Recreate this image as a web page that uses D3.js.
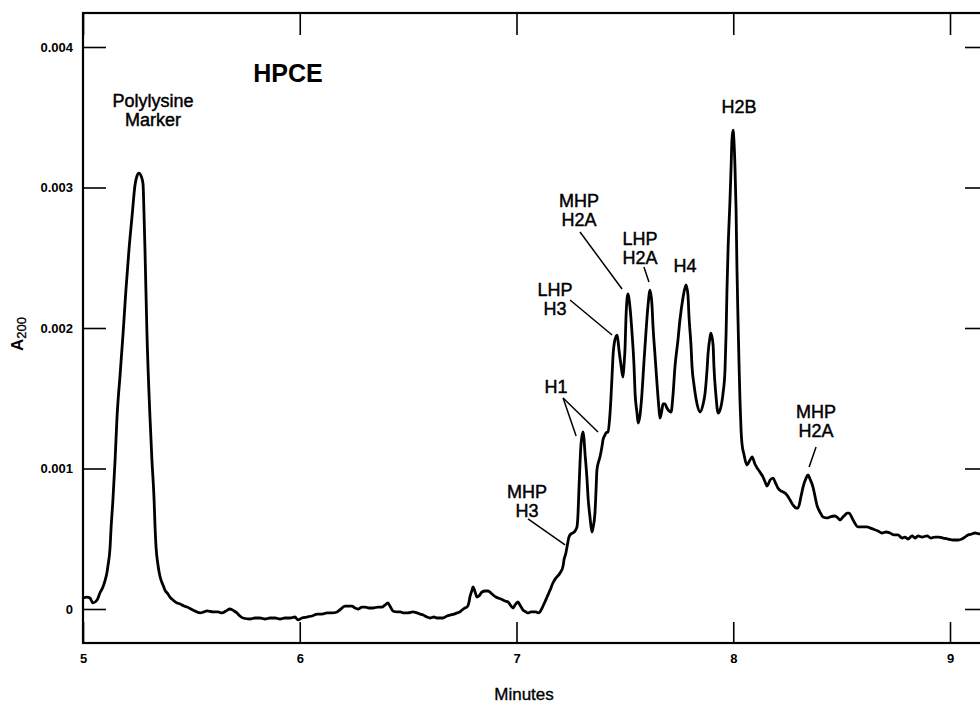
<!DOCTYPE html>
<html>
<head>
<meta charset="utf-8">
<script src="https://cdn.jsdelivr.net/npm/d3@7"></script>
<style>
  html, body { margin: 0; padding: 0; background: #fff; }
  svg { display: block; }
  text { font-family: "Liberation Sans", Arial, Helvetica, sans-serif; fill: #000; }
</style>
</head>
<body>
<svg id="chart" width="980" height="707"></svg>
<script>
// HPCE electropherogram: migration time (min) vs. absorbance at 200 nm (in units of 0.001 AU)
const timeMin = [
  5.000, 5.018, 5.032, 5.046, 5.065, 5.078, 5.092, 5.101, 5.111, 5.115,
  5.125, 5.129, 5.138, 5.148, 5.157, 5.171, 5.185, 5.198, 5.212, 5.226,
  5.240, 5.249, 5.258, 5.268, 5.277, 5.281, 5.286, 5.295, 5.309, 5.318,
  5.328, 5.332, 5.337, 5.346, 5.351, 5.360, 5.369, 5.378, 5.392, 5.401,
  5.415, 5.434, 5.448, 5.466, 5.480, 5.507, 5.540, 5.558, 5.572, 5.600,
  5.623, 5.641, 5.660, 5.678, 5.697, 5.710, 5.724, 5.738, 5.770, 5.794,
  5.817, 5.840, 5.863, 5.886, 5.909, 5.932, 5.955, 5.978, 5.992, 6.010,
  6.033, 6.057, 6.080, 6.103, 6.126, 6.149, 6.172, 6.190, 6.209, 6.227,
  6.241, 6.255, 6.269, 6.287, 6.301, 6.319, 6.338, 6.361, 6.379, 6.393,
  6.407, 6.416, 6.430, 6.449, 6.463, 6.481, 6.499, 6.522, 6.541, 6.555,
  6.569, 6.587, 6.601, 6.619, 6.633, 6.647, 6.661, 6.679, 6.693, 6.712,
  6.726, 6.739, 6.749, 6.762, 6.772, 6.781, 6.785, 6.795, 6.799, 6.809,
  6.818, 6.827, 6.841, 6.855, 6.869, 6.882, 6.892, 6.905, 6.915, 6.928,
  6.938, 6.947, 6.961, 6.975, 6.984, 6.993, 7.007, 7.016, 7.030, 7.044,
  7.053, 7.067, 7.076, 7.090, 7.099, 7.108, 7.118, 7.131, 7.141, 7.155,
  7.168, 7.182, 7.201, 7.215, 7.219, 7.228, 7.233, 7.242, 7.251, 7.261,
  7.270, 7.279, 7.284, 7.288, 7.293, 7.298, 7.307, 7.311, 7.316, 7.325,
  7.330, 7.339, 7.348, 7.353, 7.362, 7.367, 7.371, 7.381, 7.385, 7.394,
  7.399, 7.408, 7.413, 7.422, 7.431, 7.436, 7.441, 7.445, 7.454, 7.464,
  7.468, 7.473, 7.482, 7.491, 7.496, 7.501, 7.505, 7.514, 7.524, 7.533,
  7.542, 7.547, 7.556, 7.561, 7.570, 7.579, 7.588, 7.597, 7.607, 7.616,
  7.625, 7.630, 7.639, 7.648, 7.657, 7.662, 7.671, 7.676, 7.685, 7.694,
  7.704, 7.713, 7.722, 7.731, 7.745, 7.754, 7.768, 7.782, 7.791, 7.796,
  7.805, 7.810, 7.819, 7.824, 7.833, 7.847, 7.860, 7.870, 7.879, 7.884,
  7.893, 7.897, 7.907, 7.911, 7.920, 7.930, 7.939, 7.953, 7.962, 7.967,
  7.971, 7.976, 7.985, 7.990, 7.994, 7.999, 8.003, 8.008, 8.013, 8.017,
  8.022, 8.027, 8.031, 8.036, 8.040, 8.050, 8.063, 8.077, 8.087, 8.100,
  8.110, 8.123, 8.137, 8.147, 8.156, 8.170, 8.183, 8.197, 8.206, 8.220,
  8.230, 8.248, 8.262, 8.276, 8.290, 8.299, 8.313, 8.322, 8.336, 8.345,
  8.354, 8.368, 8.377, 8.386, 8.400, 8.414, 8.433, 8.446, 8.469, 8.483,
  8.493, 8.506, 8.516, 8.525, 8.534, 8.553, 8.576, 8.594, 8.617, 8.631,
  8.645, 8.668, 8.686, 8.705, 8.723, 8.742, 8.760, 8.779, 8.792, 8.806,
  8.825, 8.839, 8.852, 8.871, 8.894, 8.912, 8.931, 8.949, 8.968, 8.991,
  9.014, 9.037, 9.055, 9.069, 9.083, 9.101, 9.115, 9.138, 9.161
];

const absorbance = [
  0.078, 0.085, 0.078, 0.043, 0.064, 0.114, 0.157, 0.199, 0.263, 0.306,
  0.441, 0.562, 0.776, 1.060, 1.367, 1.665, 1.964, 2.270, 2.555, 2.790,
  3.018, 3.082, 3.103, 3.082, 3.025, 2.840, 2.555, 1.964, 1.367, 1.060,
  0.776, 0.598, 0.441, 0.313, 0.263, 0.206, 0.171, 0.135, 0.107, 0.085,
  0.064, 0.043, 0.036, 0.021, 0.014, -0.007, -0.028, -0.021, -0.014, -0.021,
  -0.021, -0.028, -0.014, 0.000, -0.014, -0.028, -0.050, -0.064, -0.071, -0.064,
  -0.064, -0.071, -0.064, -0.064, -0.071, -0.064, -0.064, -0.057, -0.078, -0.064,
  -0.057, -0.050, -0.036, -0.036, -0.028, -0.028, -0.021, 0.000, 0.021, 0.021,
  0.021, 0.007, 0.000, 0.014, 0.014, 0.007, 0.007, 0.014, 0.014, 0.028,
  0.043, 0.021, -0.014, -0.021, -0.021, -0.028, -0.028, -0.021, -0.028, -0.036,
  -0.043, -0.057, -0.064, -0.057, -0.064, -0.064, -0.064, -0.050, -0.043, -0.036,
  -0.028, -0.021, -0.007, 0.007, 0.014, 0.050, 0.085, 0.135, 0.157, 0.121,
  0.085, 0.093, 0.121, 0.128, 0.128, 0.114, 0.100, 0.085, 0.078, 0.071,
  0.064, 0.057, 0.050, 0.021, 0.007, 0.028, 0.050, 0.028, -0.007, -0.021,
  -0.028, -0.021, -0.021, -0.021, -0.028, -0.021, 0.007, 0.050, 0.085, 0.135,
  0.185, 0.221, 0.256, 0.306, 0.349, 0.399, 0.441, 0.512, 0.534, 0.541,
  0.555, 0.584, 0.683, 0.847, 1.039, 1.181, 1.260, 1.217, 1.110, 0.932,
  0.797, 0.655, 0.548, 0.577, 0.683, 0.847, 0.989, 1.060, 1.082, 1.153,
  1.203, 1.238, 1.253, 1.260, 1.381, 1.509, 1.665, 1.794, 1.915, 1.950,
  1.915, 1.843, 1.737, 1.651, 1.737, 1.865, 2.071, 2.242, 2.142, 1.964,
  1.737, 1.537, 1.395, 1.324, 1.381, 1.537, 1.758, 1.964, 2.164, 2.270,
  2.164, 2.007, 1.808, 1.609, 1.431, 1.359, 1.416, 1.459, 1.459, 1.431,
  1.409, 1.402, 1.523, 1.722, 1.915, 2.057, 2.214, 2.306, 2.235, 2.078,
  1.879, 1.722, 1.594, 1.537, 1.459, 1.402, 1.452, 1.537, 1.701, 1.822,
  1.936, 1.964, 1.879, 1.722, 1.523, 1.395, 1.416, 1.537, 1.701, 1.964,
  2.270, 2.555, 2.911, 3.146, 3.338, 3.409, 3.338, 3.146, 2.840, 2.434,
  2.057, 1.722, 1.488, 1.274, 1.181, 1.096, 1.025, 1.060, 1.082, 1.032,
  1.004, 0.975, 0.940, 0.904, 0.875, 0.918, 0.932, 0.890, 0.861, 0.840,
  0.833, 0.811, 0.776, 0.740, 0.719, 0.719, 0.804, 0.868, 0.932, 0.954,
  0.925, 0.868, 0.804, 0.740, 0.690, 0.655, 0.648, 0.655, 0.662, 0.648,
  0.633, 0.655, 0.669, 0.683, 0.683, 0.633, 0.584, 0.584, 0.584, 0.577,
  0.569, 0.555, 0.541, 0.548, 0.541, 0.527, 0.527, 0.505, 0.512, 0.498,
  0.520, 0.505, 0.520, 0.512, 0.520, 0.505, 0.512, 0.512, 0.505, 0.498,
  0.491, 0.491, 0.498, 0.512, 0.527, 0.534, 0.541, 0.534, 0.541
];

const xTicks = [5, 6, 7, 8, 9];
const xTickLabels = ["5", "6", "7", "8", "9"];
const yTicks = [0, 1, 2, 3, 4];
const yTickLabels = ["0", "0.001", "0.002", "0.003", "0.004"];

// Peak annotations: text lines, anchor (time, absorbance) of the first baseline, leader segments
const peakLabels = [
  { lines: ["Polylysine", "Marker"], t: 5.323, a: 3.573, leaders: [] },
  { lines: ["H2B"], t: 8.027, a: 3.530, leaders: [] },
  { lines: ["MHP", "H2A"], t: 7.288, a: 2.861, leaders: [[[7.293, 2.683], [7.487, 2.278]]] },
  { lines: ["LHP", "H2A"], t: 7.570, a: 2.591, leaders: [[[7.588, 2.434], [7.611, 2.327]]] },
  { lines: ["H4"], t: 7.777, a: 2.399, leaders: [] },
  { lines: ["LHP", "H3"], t: 7.178, a: 2.228, leaders: [[[7.247, 2.199], [7.441, 1.950]]] },
  { lines: ["H1"], t: 7.182, a: 1.537, leaders: [[[7.215, 1.502], [7.275, 1.231]], [[7.215, 1.502], [7.376, 1.260]]] },
  { lines: ["MHP", "H3"], t: 7.048, a: 0.790, leaders: [[[7.053, 0.641], [7.224, 0.456]]] },
  { lines: ["MHP", "H2A"], t: 8.382, a: 1.359, leaders: [[[8.382, 1.153], [8.350, 1.011]]] }
];

const svg = d3.select("#chart");
const frame = { left: 83, top: 13, right: 991, bottom: 643 };

const x = d3.scaleLinear().domain([5, 9]).range([83, 950]);
const y = d3.scaleLinear().domain([0, 4]).range([609, 47]);

// plot frame
svg.append("rect")
  .attr("x", frame.left).attr("y", frame.top)
  .attr("width", frame.right - frame.left).attr("height", frame.bottom - frame.top)
  .attr("fill", "none").attr("stroke", "#000").attr("stroke-width", 2.2);

function styleAxis(g) {
  g.attr("font-family", null).attr("font-size", null);
  g.select(".domain").remove();
  g.selectAll(".tick line").attr("stroke", "#000").attr("stroke-width", 1.6);
  g.selectAll(".tick text")
    .style("font-size", "13px")
    .style("font-weight", "bold");
}

// inward ticks on all four sides, labels on left and bottom
svg.append("g")
  .attr("transform", `translate(${frame.left},0)`)
  .call(d3.axisLeft(y).tickValues(yTicks).tickSize(-23).tickPadding(10)
    .tickFormat((d, i) => yTickLabels[i]))
  .call(styleAxis);

svg.append("g")
  .attr("transform", `translate(${frame.right},0)`)
  .call(d3.axisRight(y).tickValues(yTicks).tickSize(-26).tickFormat(""))
  .call(styleAxis);

svg.append("g")
  .attr("transform", `translate(0,${frame.bottom})`)
  .call(d3.axisBottom(x).tickValues(xTicks).tickSize(-21).tickPadding(11)
    .tickFormat((d, i) => xTickLabels[i]))
  .call(styleAxis);

svg.append("g")
  .attr("transform", `translate(0,${frame.top})`)
  .call(d3.axisTop(x).tickValues(xTicks).tickSize(-22).tickFormat(""))
  .call(styleAxis);

// trace
svg.append("clipPath").attr("id", "plotClip")
  .append("rect")
  .attr("x", frame.left).attr("y", frame.top)
  .attr("width", frame.right - frame.left).attr("height", frame.bottom - frame.top);

const line = d3.line()
  .x(i => x(timeMin[i]))
  .y(i => y(absorbance[i]))
  .curve(d3.curveMonotoneX);

svg.append("path")
  .attr("clip-path", "url(#plotClip)")
  .attr("d", line(d3.range(timeMin.length)))
  .attr("fill", "none")
  .attr("stroke", "#000")
  .attr("stroke-width", 2.8)
  .attr("stroke-linejoin", "round")
  .attr("stroke-linecap", "round");

// peak labels and leader lines
const lineGap = 19;
const ann = svg.append("g");
peakLabels.forEach(p => {
  const t = ann.append("text")
    .attr("text-anchor", "middle")
    .style("font-size", "18px")
    .attr("stroke", "#000").attr("stroke-width", 0.45);
  p.lines.forEach((s, i) => {
    t.append("tspan")
      .attr("x", x(p.t))
      .attr("y", y(p.a) + i * lineGap)
      .text(s);
  });
  p.leaders.forEach(seg => {
    ann.append("line")
      .attr("x1", x(seg[0][0])).attr("y1", y(seg[0][1]))
      .attr("x2", x(seg[1][0])).attr("y2", y(seg[1][1]))
      .attr("stroke", "#000").attr("stroke-width", 1.5);
  });
});

// panel title
svg.append("text")
  .attr("x", 288).attr("y", 82)
  .attr("text-anchor", "middle")
  .style("font-size", "25px").style("font-weight", "bold")
  .text("HPCE");

// axis titles
svg.append("text")
  .attr("x", 524).attr("y", 700)
  .attr("text-anchor", "middle")
  .style("font-size", "17px")
  .attr("stroke", "#000").attr("stroke-width", 0.35)
  .text("Minutes");

const yTitle = svg.append("text")
  .attr("transform", "translate(23,334) rotate(-90)")
  .attr("text-anchor", "middle")
  .style("font-size", "17px").style("font-weight", "bold");
yTitle.append("tspan").text("A");
yTitle.append("tspan")
  .attr("dy", 3)
  .style("font-size", "13px").style("font-weight", "normal")
  .attr("stroke", "#000").attr("stroke-width", 0.3)
  .text("200");
</script>
</body>
</html>
